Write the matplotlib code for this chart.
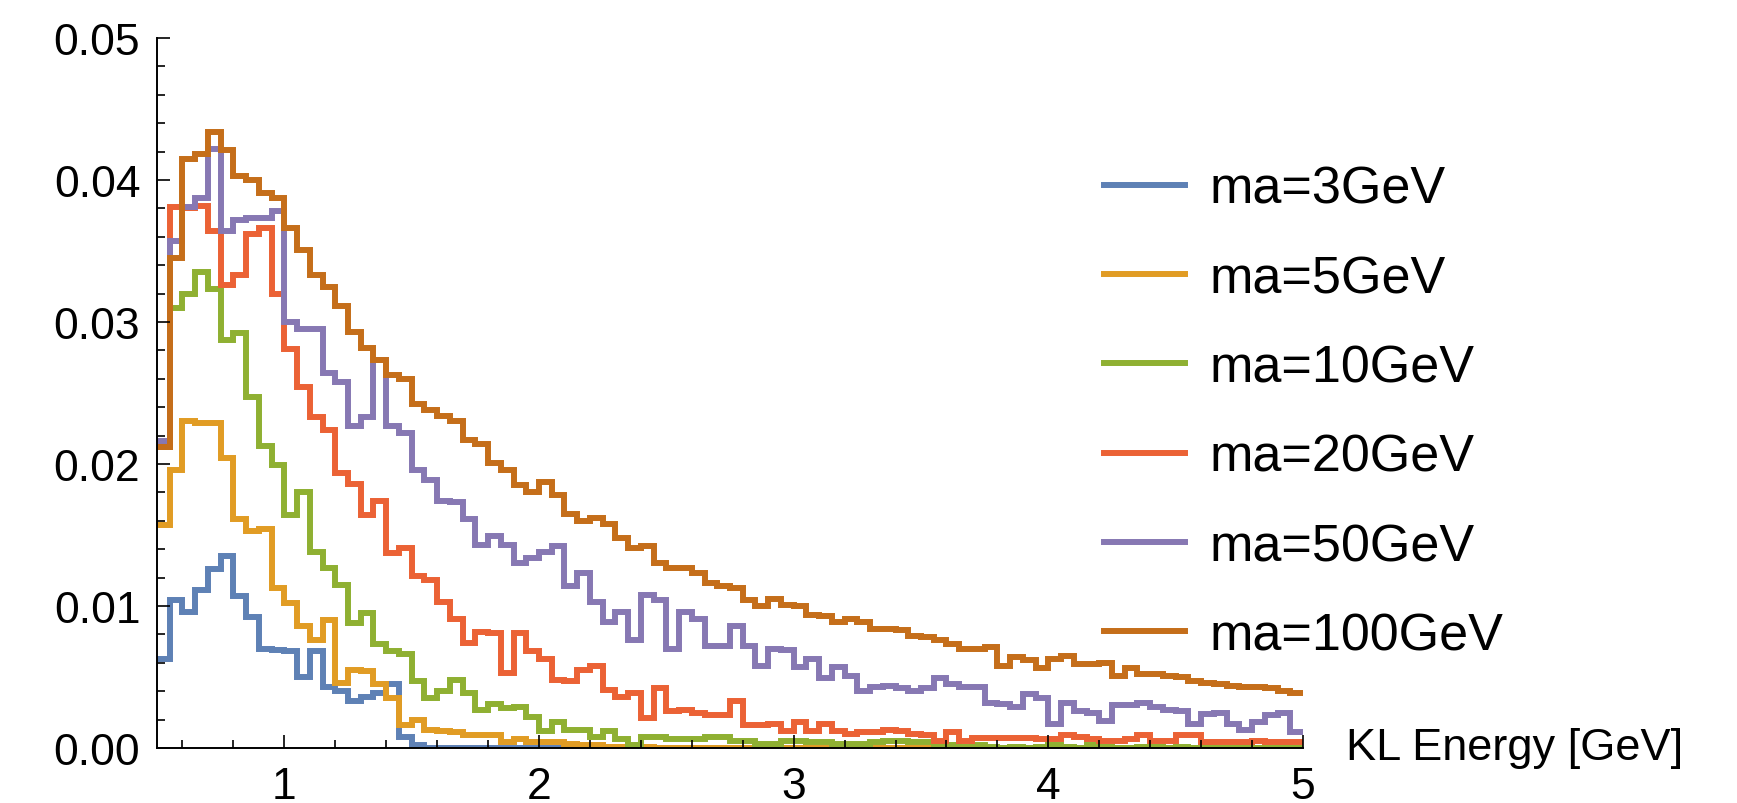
import numpy as np
import matplotlib
matplotlib.use('Agg')
import matplotlib.pyplot as plt
from matplotlib.ticker import MultipleLocator, FormatStrFormatter

plt.rcParams['font.family'] = ['Liberation Sans', 'DejaVu Sans']

# histogram bins: 0.5 .. 5.0 GeV, width 0.05
bin_edges = np.round(np.arange(0.5, 5.0001, 0.05), 2)

labels = ['ma=3GeV', 'ma=5GeV', 'ma=10GeV', 'ma=20GeV', 'ma=50GeV', 'ma=100GeV']
colors = ['#5E81B5', '#E19C24', '#8FB032', '#EB6235', '#8778B3', '#C56E1A']

ma3 = [0.0063, 0.0104, 0.0096, 0.0111, 0.0126, 0.0135, 0.0107, 0.0092, 0.0070, 0.0069,
       0.0068, 0.0050, 0.0068, 0.0043, 0.0040, 0.0033, 0.0036, 0.0039, 0.0045, 0.0008,
       0.0002, 0.0, 0.0, 0.0, 0.0, 0.0, 0.0, 0.0, 0.0, 0.0,
       0.0, 0.0, 0.0, 0.0, 0.0, 0.0, 0.0, 0.0, 0.0, 0.0,
       0.0, 0.0, 0.0, 0.0, 0.0, 0.0, 0.0, 0.0, 0.0, 0.0,
       0.0, 0.0, 0.0, 0.0, 0.0, 0.0, 0.0, 0.0, 0.0, 0.0,
       0.0, 0.0, 0.0, 0.0, 0.0, 0.0, 0.0, 0.0, 0.0, 0.0,
       0.0, 0.0, 0.0, 0.0, 0.0, 0.0, 0.0, 0.0, 0.0, 0.0,
       0.0, 0.0, 0.0, 0.0, 0.0, 0.0, 0.0, 0.0, 0.0, 0.0]

ma5 = [0.0157, 0.0196, 0.0230, 0.0229, 0.0229, 0.0204, 0.0161, 0.0153, 0.0154, 0.0113,
       0.0102, 0.0086, 0.0076, 0.0090, 0.0046, 0.0055, 0.0054, 0.0045, 0.0035, 0.0016,
       0.0020, 0.0013, 0.0012, 0.0011, 0.0009, 0.0009, 0.0009, 0.0004, 0.0006, 0.0004,
       0.0004, 0.0004, 0.0003, 0.0002, 0.0002, 0.0001, 0.0001, 0.0001, 0.0001, 0.0,
       0.0, 0.0, 0.0, 0.0, 0.0, 0.0, 0.0, 0.0, 0.0, 0.0,
       0.0, 0.0, 0.0, 0.0, 0.0, 0.0, 0.0, 0.0, 0.0, 0.0,
       0.0, 0.0, 0.0, 0.0, 0.0, 0.0, 0.0, 0.0, 0.0, 0.0,
       0.0, 0.0, 0.0, 0.0, 0.0, 0.0, 0.0, 0.0, 0.0, 0.0,
       0.0, 0.0, 0.0, 0.0, 0.0, 0.0, 0.0, 0.0, 0.0, 0.0]

ma10 = [0.0212, 0.0310, 0.0320, 0.0335, 0.0323, 0.0287, 0.0292, 0.0247, 0.0213, 0.0199,
        0.0164, 0.0180, 0.0138, 0.0127, 0.0115, 0.0088, 0.0095, 0.0073, 0.0068, 0.0066,
        0.0047, 0.0035, 0.0040, 0.0048, 0.0039, 0.0027, 0.0031, 0.0028, 0.0029, 0.0022,
        0.0012, 0.0018, 0.0013, 0.0013, 0.0008, 0.0012, 0.0006, 0.0002, 0.0008, 0.0008,
        0.0006, 0.0006, 0.0006, 0.0008, 0.0008, 0.0005, 0.0005, 0.0003, 0.0003, 0.0005,
        0.0005, 0.0004, 0.0004, 0.0003, 0.0003, 0.0003, 0.0004, 0.0005, 0.0005, 0.0004,
        0.0004, 0.0002, 0.0002, 0.0001, 0.0002, 0.0001, 0.0, 0.0001, 0.0, 0.0001,
        0.0002, 0.0001, 0.0, 0.0002, 0.0001, 0.0, 0.0, 0.0001, 0.0001, 0.0,
        0.0001, 0.0, 0.0002, 0.0, 0.0, 0.0001, 0.0, 0.0, 0.0001, 0.0]

ma20 = [0.0214, 0.0381, 0.0380, 0.0382, 0.0364, 0.0326, 0.0333, 0.0362, 0.0366, 0.0320,
        0.0281, 0.0254, 0.0233, 0.0224, 0.0194, 0.0186, 0.0164, 0.0174, 0.0137, 0.0141,
        0.0121, 0.0118, 0.0103, 0.0091, 0.0074, 0.0082, 0.0081, 0.0053, 0.0081, 0.0068,
        0.0063, 0.0048, 0.0047, 0.0055, 0.0058, 0.0041, 0.0036, 0.0039, 0.0021, 0.0042,
        0.0026, 0.0027, 0.0025, 0.0023, 0.0023, 0.0033, 0.0016, 0.0016, 0.0017, 0.0012,
        0.0018, 0.0012, 0.0017, 0.0012, 0.0010, 0.0011, 0.0011, 0.0013, 0.0012, 0.0010,
        0.0009, 0.0005, 0.0011, 0.0005, 0.0007, 0.0007, 0.0007, 0.0007, 0.0007, 0.0006,
        0.0006, 0.0009, 0.0008, 0.0006, 0.0005, 0.0005, 0.0006, 0.0009, 0.0005, 0.0005,
        0.0009, 0.0009, 0.0004, 0.0004, 0.0004, 0.0004, 0.0005, 0.0004, 0.0004, 0.0004]

ma50 = [0.0216, 0.0357, 0.0381, 0.0387, 0.0422, 0.0364, 0.0372, 0.0373, 0.0373, 0.0378,
        0.0300, 0.0295, 0.0295, 0.0264, 0.0258, 0.0227, 0.0233, 0.0273, 0.0227, 0.0222,
        0.0196, 0.0189, 0.0174, 0.0173, 0.0161, 0.0143, 0.0149, 0.0143, 0.0130, 0.0134,
        0.0138, 0.0142, 0.0114, 0.0123, 0.0103, 0.0089, 0.0096, 0.0076, 0.0108, 0.0104,
        0.0070, 0.0096, 0.0091, 0.0072, 0.0072, 0.0086, 0.0072, 0.0058, 0.0070, 0.0069,
        0.0057, 0.0063, 0.0049, 0.0057, 0.0051, 0.0040, 0.0043, 0.0044, 0.0042, 0.0040,
        0.0042, 0.0049, 0.0045, 0.0043, 0.0043, 0.0032, 0.0031, 0.0029, 0.0038, 0.0035,
        0.0017, 0.0032, 0.0026, 0.0025, 0.0019, 0.0030, 0.0030, 0.0032, 0.0029, 0.0027,
        0.0026, 0.0017, 0.0024, 0.0025, 0.0017, 0.0013, 0.0018, 0.0023, 0.0025, 0.0011]

ma100 = [0.0212, 0.0345, 0.0415, 0.0418, 0.0434, 0.0421, 0.0403, 0.0400, 0.0391, 0.0387,
         0.0366, 0.0351, 0.0333, 0.0325, 0.0311, 0.0293, 0.0282, 0.0273, 0.0263, 0.0260,
         0.0242, 0.0238, 0.0234, 0.0230, 0.0217, 0.0214, 0.0201, 0.0196, 0.0185, 0.0180,
         0.0187, 0.0178, 0.0165, 0.0160, 0.0162, 0.0158, 0.0148, 0.0141, 0.0142, 0.0130,
         0.0127, 0.0127, 0.0123, 0.0116, 0.0114, 0.0113, 0.0104, 0.0100, 0.0105, 0.0101,
         0.0100, 0.0094, 0.0093, 0.0089, 0.0091, 0.0089, 0.0084, 0.0084, 0.0083, 0.0079,
         0.0078, 0.0076, 0.0073, 0.0070, 0.0070, 0.0071, 0.0058, 0.0064, 0.0062, 0.0056,
         0.0063, 0.0065, 0.0059, 0.0059, 0.0060, 0.0051, 0.0056, 0.0052, 0.0052, 0.0051,
         0.0050, 0.0047, 0.0046, 0.0045, 0.0044, 0.0043, 0.0043, 0.0042, 0.0040, 0.0039]

series = [ma3, ma5, ma10, ma20, ma50, ma100]

fig = plt.figure(figsize=(17.37, 8.04), dpi=100)
ax = fig.add_axes([157 / 1737, 55 / 804, 1146 / 1737, 710 / 804])

for vals, col, lab in zip(series, colors, labels):
    ax.stairs(vals, bin_edges, color=col, lw=4.3, label=lab, baseline=None)

ax.set_xlim(0.5, 5)
ax.set_ylim(0, 0.05)
for s in ['top', 'right']:
    ax.spines[s].set_visible(False)
for s in ['left', 'bottom']:
    ax.spines[s].set_linewidth(1.4)

ax.set_xticks([1, 2, 3, 4, 5])
ax.xaxis.set_minor_locator(MultipleLocator(0.2))
ax.set_yticks([0, 0.01, 0.02, 0.03, 0.04, 0.05])
ax.yaxis.set_minor_locator(MultipleLocator(0.002))
ax.yaxis.set_major_formatter(FormatStrFormatter('%.2f'))
ax.tick_params(which='both', direction='in', width=1.2, labelsize=32)
ax.tick_params(which='major', length=9.5)
ax.tick_params(which='minor', length=5.5)
ax.tick_params(axis='x', pad=12.7)
ax.tick_params(axis='y', pad=12)

ax.set_xlabel('KL Energy [GeV]', fontsize=32.5, ha='left', va='center')
ax.xaxis.set_label_coords(1.0375, 0)

ax.legend(loc='upper left', bbox_to_anchor=(0.6356, 0.7937), bbox_transform=fig.transFigure,
          frameon=False, fontsize=37.5, borderpad=0, borderaxespad=0,
          handlelength=1.55, handletextpad=0.48, labelspacing=0.775)

fig.savefig('out.png', dpi=100)
